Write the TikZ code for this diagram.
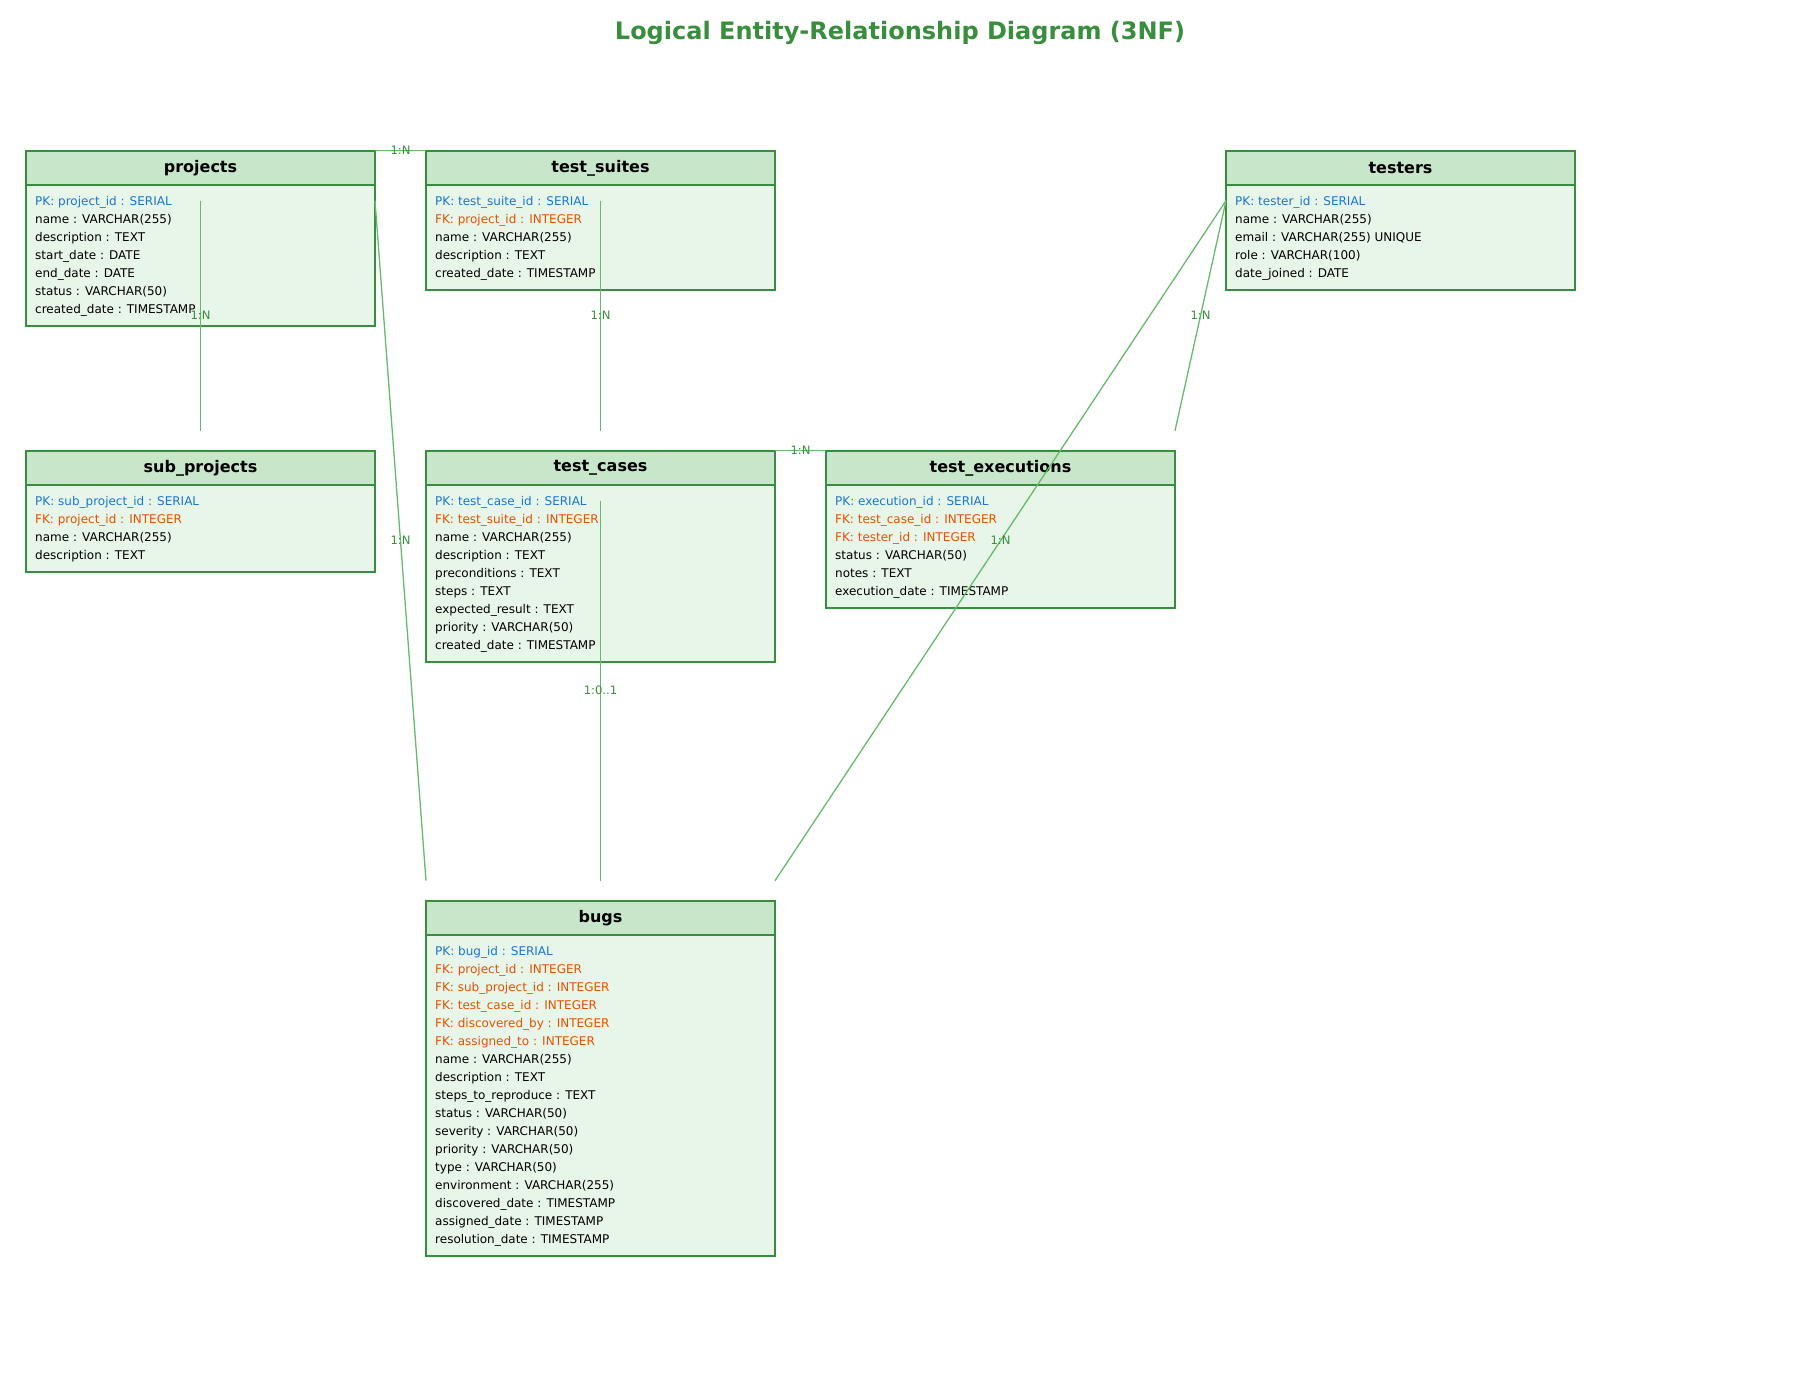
\documentclass[tikz,border=0pt]{standalone}
\usepackage{fontspec}
\setmainfont{DejaVu Sans}
\usepackage{tikz}
\usetikzlibrary{positioning}
\definecolor{hd}{HTML}{C8E6C9}
\definecolor{bd}{HTML}{E8F5E9}
\definecolor{edge}{HTML}{388E3C}
\definecolor{ln}{HTML}{66BB6A}
\definecolor{pk}{HTML}{1976D2}
\definecolor{fk}{HTML}{E65100}
\newcommand{\pkey}[1]{\textcolor{pk}{PK: #1}}
\newcommand{\fkey}[1]{\textcolor{fk}{FK: #1}}

\begin{document}
\begin{tikzpicture}[x=1pt,y=1pt,
    head/.style={draw=edge,line width=1.7pt,fill=hd,minimum width=349pt,minimum height=34.3pt,
      inner sep=0pt,outer sep=0pt,font=\fontsize{16}{18}\selectfont\bfseries},
    body/.style={draw=edge,line width=1.7pt,fill=bd,minimum width=349pt,inner sep=0pt,outer sep=0pt},
    field/.style={anchor=base west,inner sep=0pt,font=\fontsize{12}{14}\selectfont},
    rel/.style={draw=ln,line width=1.3pt},
    card/.style={text=edge,inner sep=0pt,font=\fontsize{11.6}{13}\selectfont}]
  \useasboundingbox (0,0) rectangle (1800,-1400);
  \node[text=edge,font=\fontsize{24}{27}\selectfont\bfseries] (title) at (900,-32.5) {Logical Entity-Relationship Diagram (3NF)};

  % entities
  \node[head] (projects) at (200.5,-167.85) {projects};
  \node[body,minimum height=141pt,below=0pt of projects] (projects-body) {};
  \foreach \f [count=\i] in {\pkey{project\_id : SERIAL}, name : VARCHAR(255), description : TEXT,
      start\_date : DATE, end\_date : DATE, status : VARCHAR(50), created\_date : TIMESTAMP}
    \node[field] at ([xshift=9pt,yshift={-20.5pt-18pt*(\i-1)}]projects-body.north west) {\f};

  \node[head] (testsuites) at (600.5,-167.85) {test\_suites};
  \node[body,minimum height=105pt,below=0pt of testsuites] (testsuites-body) {};
  \foreach \f [count=\i] in {\pkey{test\_suite\_id : SERIAL}, \fkey{project\_id : INTEGER},
      name : VARCHAR(255), description : TEXT, created\_date : TIMESTAMP}
    \node[field] at ([xshift=9pt,yshift={-20.5pt-18pt*(\i-1)}]testsuites-body.north west) {\f};

  \node[head] (testers) at (1400.5,-167.85) {testers};
  \node[body,minimum height=105pt,below=0pt of testers] (testers-body) {};
  \foreach \f [count=\i] in {\pkey{tester\_id : SERIAL}, name : VARCHAR(255), email : VARCHAR(255) UNIQUE,
      role : VARCHAR(100), date\_joined : DATE}
    \node[field] at ([xshift=9pt,yshift={-20.5pt-18pt*(\i-1)}]testers-body.north west) {\f};

  \node[head] (subprojects) at (200.5,-467.85) {sub\_projects};
  \node[body,minimum height=87pt,below=0pt of subprojects] (subprojects-body) {};
  \foreach \f [count=\i] in {\pkey{sub\_project\_id : SERIAL}, \fkey{project\_id : INTEGER},
      name : VARCHAR(255), description : TEXT}
    \node[field] at ([xshift=9pt,yshift={-20.5pt-18pt*(\i-1)}]subprojects-body.north west) {\f};

  \node[head] (testcases) at (600.5,-467.85) {test\_cases};
  \node[body,minimum height=177pt,below=0pt of testcases] (testcases-body) {};
  \foreach \f [count=\i] in {\pkey{test\_case\_id : SERIAL}, \fkey{test\_suite\_id : INTEGER},
      name : VARCHAR(255), description : TEXT, preconditions : TEXT, steps : TEXT,
      expected\_result : TEXT, priority : VARCHAR(50), created\_date : TIMESTAMP}
    \node[field] at ([xshift=9pt,yshift={-20.5pt-18pt*(\i-1)}]testcases-body.north west) {\f};

  \node[head] (testexecutions) at (1000.5,-467.85) {test\_executions};
  \node[body,minimum height=123pt,below=0pt of testexecutions] (testexecutions-body) {};
  \foreach \f [count=\i] in {\pkey{execution\_id : SERIAL}, \fkey{test\_case\_id : INTEGER},
      \fkey{tester\_id : INTEGER}, status : VARCHAR(50), notes : TEXT, execution\_date : TIMESTAMP}
    \node[field] at ([xshift=9pt,yshift={-20.5pt-18pt*(\i-1)}]testexecutions-body.north west) {\f};

  \node[head] (bugs) at (600.5,-917.85) {bugs};
  \node[body,minimum height=321pt,below=0pt of bugs] (bugs-body) {};
  \foreach \f [count=\i] in {\pkey{bug\_id : SERIAL}, \fkey{project\_id : INTEGER},
      \fkey{sub\_project\_id : INTEGER}, \fkey{test\_case\_id : INTEGER}, \fkey{discovered\_by : INTEGER},
      \fkey{assigned\_to : INTEGER}, name : VARCHAR(255), description : TEXT, steps\_to\_reproduce : TEXT,
      status : VARCHAR(50), severity : VARCHAR(50), priority : VARCHAR(50), type : VARCHAR(50),
      environment : VARCHAR(255), discovered\_date : TIMESTAMP, assigned\_date : TIMESTAMP,
      resolution\_date : TIMESTAMP}
    \node[field] at ([xshift=9pt,yshift={-20.5pt-18pt*(\i-1)}]bugs-body.north west) {\f};

  % relationships
  \draw[rel] ([yshift=-50pt]projects.north) -- ([yshift=20pt]subprojects.north) node[midway,card]{1:N};
  \draw[rel] (projects.north east) -- (testsuites.north west) node[midway,card]{1:N};
  \draw[rel] ([yshift=-50pt]projects.north east) -- ([yshift=20pt]bugs.north west) node[midway,card]{1:N};
  \draw[rel] ([yshift=-50pt]testsuites.north) -- ([yshift=20pt]testcases.north) node[midway,card]{1:N};
  \draw[rel] (testcases.north east) -- (testexecutions.north west) node[midway,card]{1:N};
  \draw[rel] ([yshift=-50pt]testcases.north) -- ([yshift=20pt]bugs.north) node[midway,card]{1:0..1};
  \draw[rel] ([yshift=-50pt]testers.north west) -- ([yshift=20pt]testexecutions.north east) node[midway,card]{1:N};
  \draw[rel] ([yshift=-50pt]testers.north west) -- ([yshift=20pt]bugs.north east) node[midway,card]{1:N};
\end{tikzpicture}
\end{document}
